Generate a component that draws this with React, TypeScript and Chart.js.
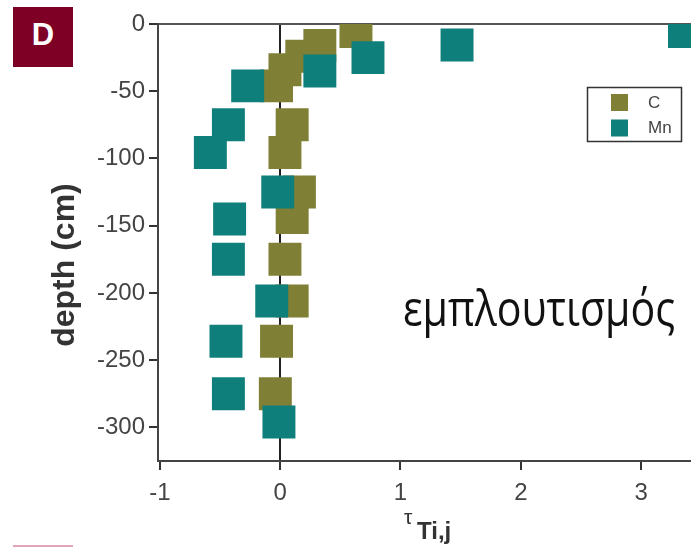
import React, { useEffect, useRef } from 'react';
import { Chart, registerables } from 'chart.js';

Chart.register(...registerables);

// ---- data ----
const seriesNames = ['C', 'Mn'];
const cTau = [0.63, 0.33, 0.18, 0.04, -0.03, 0.10, 0.04, 0.10, 0.16, 0.04, 0.10, -0.03, -0.04];
const cDepth = [-5.6, -16, -24, -34, -46, -75, -95.5, -144, -125, -175, -206, -236, -275];
const mnTau = [3.36, 1.47, 0.73, 0.33, -0.27, -0.43, -0.58, -0.02, -0.42, -0.43, -0.07, -0.45, -0.43, -0.01];
const mnDepth = [-5.6, -15.6, -25, -35, -46, -75, -95.5, -125, -145, -175, -206, -236, -275, -296];
const xTicks = [-1, 0, 1, 2, 3];
const yTicks = [0, -50, -100, -150, -200, -250, -300];
const xRange = [-1.015, 3.42];
const yRange = [-325, 0];
const yTitle = 'depth (cm)';
const xTitleMain = 'τ';
const xTitleSub = 'Ti,j';
const annotation = 'εμπλουτισμός';
const badge = 'D';

const OLIVE = '#7f7f35';
const TEAL = '#0f7f7b';
const FONT = '"Liberation Sans", Arial, Helvetica, sans-serif';
const POINT_R = 23.3;
// canvas is wider than the window so that the chart area (which Chart.js
// insets by the point overflow) reaches the window's right edge, like the crop in the reference
const CANVAS_W = 691 + 24;

const toPoints = (xs: number[], ys: number[]) => xs.map((x, i) => ({ x, y: ys[i] }));

const overlayPlugin = {
  id: 'overlayText',
  afterDraw(chart: any) {
    const { ctx } = chart;
    // y title
    ctx.save();
    ctx.translate(74, 265);
    ctx.rotate(-Math.PI / 2);
    ctx.font = `bold 32px ${FONT}`;
    ctx.fillStyle = '#333';
    ctx.textAlign = 'center';
    ctx.textBaseline = 'alphabetic';
    ctx.fillText(yTitle, 0, 0);
    ctx.restore();

    // x title
    ctx.save();
    ctx.fillStyle = '#333';
    ctx.textAlign = 'left';
    ctx.textBaseline = 'alphabetic';
    ctx.font = `21px ${FONT}`;
    ctx.fillText(xTitleMain, 404, 524);
    ctx.font = `bold 24px ${FONT}`;
    ctx.fillText(xTitleSub, 417, 539);
    ctx.restore();

    // legend
    ctx.save();
    ctx.strokeStyle = '#333';
    ctx.lineWidth = 1.5;
    ctx.strokeRect(587.5, 87.5, 94, 54);
    const colors = chart.data.datasets.map((d: any) => d.backgroundColor);
    ctx.font = `17px ${FONT}`;
    ctx.textBaseline = 'middle';
    ctx.textAlign = 'left';
    seriesNames.forEach((name, i) => {
      const y = 94 + i * 25.5;
      ctx.fillStyle = colors[i];
      ctx.fillRect(611, y, 17, 17);
      ctx.fillStyle = '#444';
      ctx.fillText(name, 648, y + 9);
    });
    ctx.restore();

    // annotation
    ctx.save();
    ctx.font = '48px "Open Sans", "Noto Sans", sans-serif';
    ctx.fillStyle = '#111';
    ctx.textBaseline = 'alphabetic';
    ctx.textAlign = 'left';
    const w = ctx.measureText(annotation).width;
    ctx.translate(403, 326);
    ctx.scale(272 / w, 1.04);
    ctx.fillText(annotation, 0, 0);
    ctx.restore();
  },
};

export default function App() {
  const ref = useRef<HTMLCanvasElement | null>(null);

  useEffect(() => {
    if (!ref.current) return;
    const chart = new Chart(ref.current, {
      type: 'scatter',
      data: {
        datasets: [
          {
            label: seriesNames[0],
            data: toPoints(cTau, cDepth),
            backgroundColor: OLIVE,
            borderWidth: 0,
            pointStyle: 'rect',
            pointRadius: POINT_R,
            pointHoverRadius: POINT_R,
            clip: 0,
            order: 1,
          },
          {
            label: seriesNames[1],
            data: toPoints(mnTau, mnDepth),
            backgroundColor: TEAL,
            borderWidth: 0,
            pointStyle: 'rect',
            pointRadius: POINT_R,
            pointHoverRadius: POINT_R,
            clip: 0,
            order: 0,
          },
        ],
      },
      options: {
        animation: false,
        responsive: false,
        devicePixelRatio: 1,
        layout: { padding: { top: 24, right: 0, left: 0, bottom: 0 } },
        plugins: { legend: { display: false }, tooltip: { enabled: false } },
        scales: {
          x: {
            type: 'linear',
            min: xRange[0],
            max: xRange[1],
            z: 1,
            afterBuildTicks: (s: any) => {
              s.ticks = xTicks.map((v) => ({ value: v }));
            },
            afterFit: (s: any) => {
              s.height = 86;
              s.paddingLeft = 0;
              s.paddingRight = 0;
            },
            ticks: {
              callback: (v: any) => String(v),
              font: { family: FONT, size: 24 },
              color: '#444',
              padding: 9,
              maxRotation: 0,
            },
            grid: {
              color: (c: any) => (c.tick && c.tick.value === 0 ? '#222' : 'rgba(0,0,0,0)'),
              lineWidth: 2,
              tickColor: '#333',
              tickWidth: 2,
              tickLength: 9,
            },
            border: { display: true, color: '#444', width: 2 },
          },
          y: {
            type: 'linear',
            min: yRange[0],
            max: yRange[1],
            z: 1,
            afterBuildTicks: (s: any) => {
              s.ticks = yTicks.map((v) => ({ value: v }));
            },
            afterFit: (s: any) => {
              s.width = 158;
              s.paddingTop = 0;
              s.paddingBottom = 0;
            },
            ticks: {
              callback: (v: any) => String(v),
              font: { family: FONT, size: 24 },
              color: '#444',
              padding: 4,
            },
            grid: {
              color: (c: any) => (c.tick && c.tick.value === 0 ? '#555' : 'rgba(0,0,0,0)'),
              lineWidth: 2,
              tickColor: '#333',
              tickWidth: 2,
              tickLength: 9,
            },
            border: { display: true, color: '#444', width: 2 },
          },
        },
      },
      plugins: [overlayPlugin],
    } as any);
    return () => chart.destroy();
  }, []);

  return (
    <div style={{ position: 'fixed', left: 0, top: 0, width: 691, height: 547, background: '#fff', overflow: 'hidden' }}>
      <canvas ref={ref} width={CANVAS_W} height={547} style={{ width: CANVAS_W, height: 547, display: 'block' }} />
      <div
        style={{
          position: 'absolute',
          left: 13,
          top: 7,
          width: 60,
          height: 60,
          background: '#7f0025',
          color: '#fff',
          fontFamily: FONT,
          fontWeight: 'bold',
          fontSize: 31,
          lineHeight: '56px',
          textAlign: 'center',
        }}
      >
        {badge}
      </div>
      <div style={{ position: 'absolute', left: 13, top: 545, width: 60, height: 2, background: '#dea6b6' }} />
    </div>
  );
}
